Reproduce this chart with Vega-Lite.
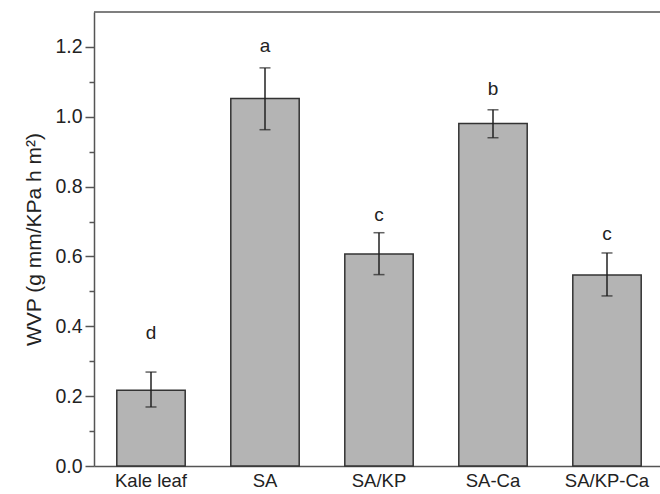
{
  "$schema": "https://vega.github.io/schema/vega-lite/v6.json",
  "autosize": "none",
  "width": 570,
  "height": 454,
  "padding": {"left": 94, "top": 12, "right": 0, "bottom": 28},
  "background": "white",
  "config": {
    "view": {"stroke": null},
    "font": "Liberation Sans",
    "axis": {"labelFont": "Liberation Sans", "titleFont": "Liberation Sans"}
  },
  "datasets": {
    "bars": [
      {"sample": "Kale leaf", "wvp": 0.217, "lo": 0.169, "hi": 0.269, "letter": "d", "letter_at": 0.381},
      {"sample": "SA", "wvp": 1.052, "lo": 0.963, "hi": 1.14, "letter": "a", "letter_at": 1.203},
      {"sample": "SA/KP", "wvp": 0.607, "lo": 0.548, "hi": 0.668, "letter": "c", "letter_at": 0.72},
      {"sample": "SA-Ca", "wvp": 0.981, "lo": 0.94, "hi": 1.02, "letter": "b", "letter_at": 1.08},
      {"sample": "SA/KP-Ca", "wvp": 0.547, "lo": 0.487, "hi": 0.61, "letter": "c", "letter_at": 0.665}
    ]
  },
  "resolve": {"axis": {"y": "independent"}},
  "layer": [
    {
      "data": {"name": "bars"},
      "mark": {"type": "bar", "fill": "#b4b4b4", "stroke": "#333333", "strokeWidth": 1.5},
      "encoding": {
        "x": {
          "field": "sample", "type": "nominal", "sort": null,
          "scale": {"paddingInner": 0.4, "paddingOuter": 0.2},
          "axis": {"title": null, "labelAngle": 0, "labelFontSize": 18.5, "labelColor": "#222222", "ticks": false, "labelPadding": 5, "domainColor": "#555555", "domainWidth": 1.5}
        },
        "y": {
          "field": "wvp", "type": "quantitative",
          "scale": {"domain": [0, 1.3], "nice": false, "zero": true},
          "axis": {
            "values": [0, 0.2, 0.4, 0.6, 0.8, 1.0, 1.2], "format": ".1f", "grid": false,
            "title": "WVP (g mm/KPa h m²)", "titleFontSize": 21, "titleFontWeight": "normal", "titleColor": "#222222", "titlePadding": 10,
            "labelFontSize": 19.5, "labelColor": "#222222", "labelPadding": 3,
            "tickSize": 9, "tickWidth": 1.5, "tickColor": "#555555", "domainColor": "#555555", "domainWidth": 1.5
          }
        }
      }
    },
    {
      "data": {"name": "bars"},
      "mark": {"type": "rule", "color": "#222222", "strokeWidth": 1.5},
      "encoding": {
        "x": {"field": "sample", "type": "nominal", "sort": null},
        "y": {"field": "lo", "type": "quantitative", "axis": null},
        "y2": {"field": "hi"}
      }
    },
    {
      "data": {"name": "bars"},
      "mark": {"type": "tick", "color": "#222222", "thickness": 1.5, "size": 11},
      "encoding": {
        "x": {"field": "sample", "type": "nominal", "sort": null},
        "y": {"field": "lo", "type": "quantitative", "axis": null}
      }
    },
    {
      "data": {"name": "bars"},
      "mark": {"type": "tick", "color": "#222222", "thickness": 1.5, "size": 11},
      "encoding": {
        "x": {"field": "sample", "type": "nominal", "sort": null},
        "y": {"field": "hi", "type": "quantitative", "axis": null}
      }
    },
    {
      "data": {"name": "bars"},
      "mark": {"type": "text", "fontSize": 19, "color": "#222222", "baseline": "middle"},
      "encoding": {
        "x": {"field": "sample", "type": "nominal", "sort": null},
        "y": {"field": "letter_at", "type": "quantitative", "axis": null},
        "text": {"field": "letter"}
      }
    },
    {
      "data": {"values": [{"edge": 1.3}]},
      "mark": {"type": "rule", "color": "#555555", "strokeWidth": 1.5},
      "encoding": {
        "y": {
          "field": "edge", "type": "quantitative",
          "axis": {"orient": "left", "values": [0.1, 0.3, 0.5, 0.7, 0.9, 1.1], "labels": false, "domain": false, "grid": false, "title": null, "tickSize": 5, "tickWidth": 1.5, "tickColor": "#555555"}
        }
      }
    }
  ]
}
